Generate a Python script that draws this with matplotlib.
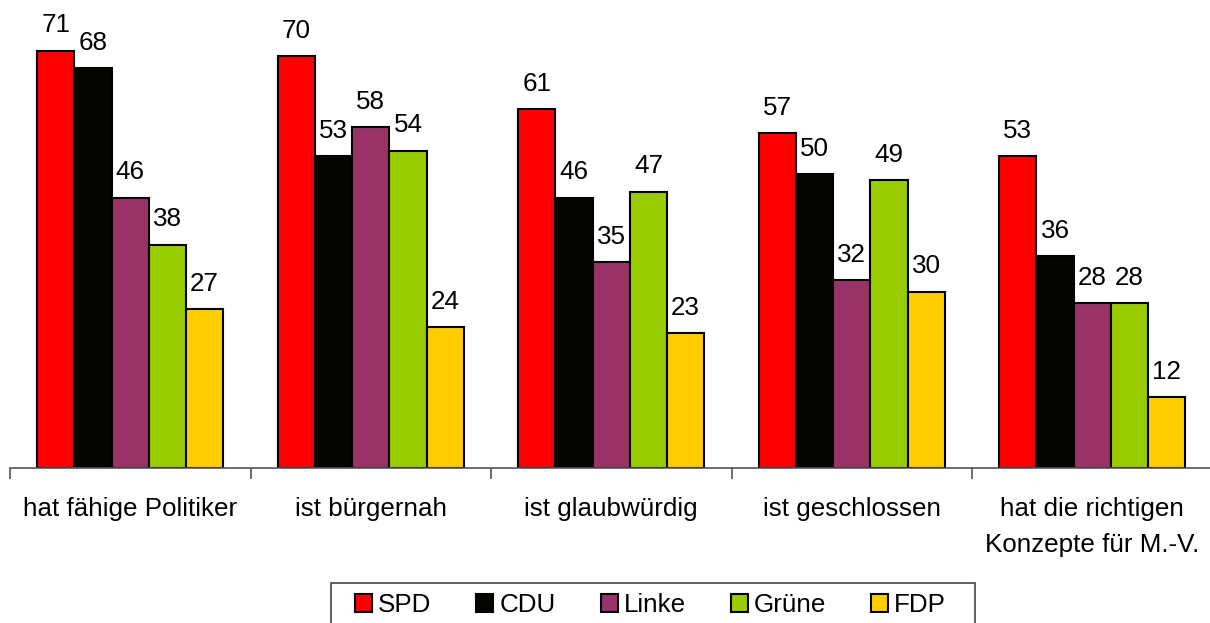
import matplotlib
matplotlib.use("Agg")
import matplotlib.pyplot as plt
from matplotlib.patches import Patch, Rectangle
import numpy as np

plt.rcParams['font.family'] = ['Liberation Sans', 'DejaVu Sans']

categories = ["hat fähige Politiker", "ist bürgernah", "ist glaubwürdig",
              "ist geschlossen", "hat die richtigen\nKonzepte für M.-V."]
parties = ["SPD", "CDU", "Linke", "Grüne", "FDP"]
colors = ["#FF0000", "#050500", "#993366", "#99CC00", "#FFCC00"]
values = {
    "SPD":   [71, 70, 61, 57, 53],
    "CDU":   [68, 53, 46, 50, 36],
    "Linke": [46, 58, 35, 32, 28],
    "Grüne": [38, 54, 47, 49, 28],
    "FDP":   [27, 24, 23, 30, 12],
}

W, H = 1210, 623
fig = plt.figure(figsize=(W / 100, H / 100), dpi=100)
ax = fig.add_axes([10 / W, (H - 468) / H, 1202.5 / W, 468 / H])

n = len(parties)
bw = 0.1547
x0 = np.arange(len(categories)) + 0.5 - bw * n / 2 + bw / 2
fs = 18.7
for i, p in enumerate(parties):
    xs = x0 + i * bw
    ax.bar(xs, values[p], width=bw, color=colors[i], edgecolor="black", linewidth=1.5)
    for x, v in zip(xs, values[p]):
        ax.annotate(str(v), (x, v), xytext=(0, 9.5), textcoords="offset points",
                    ha="center", va="bottom", fontsize=fs)

ax.set_xlim(0, 5)
ax.set_ylim(0, 79.6)
for s in ["top", "right", "left"]:
    ax.spines[s].set_visible(False)
ax.spines["bottom"].set_color("#555555")
ax.spines["bottom"].set_linewidth(1.2)
ax.set_yticks([])
ax.set_xticks(np.arange(len(categories)) + 0.5)
ax.set_xticklabels(categories, fontsize=fs, linespacing=1.62, va="top")
ax.tick_params(axis="x", which="major", length=0, pad=21)
ax.set_xticks(np.arange(0, 6), minor=True)
ax.tick_params(axis="x", which="minor", length=8, width=1.2, color="#555555", direction="out")

# legend frame drawn manually (extends past the bottom edge like the reference)
fig.patches.append(Rectangle((331 / W, -10 / H), (975 - 331) / W, (623 - 583 + 10) / H,
                             transform=fig.transFigure, fill=False,
                             edgecolor="#444444", linewidth=1.2))
handles = [Patch(facecolor=c, edgecolor="black", linewidth=1.5) for c in colors]
fpx = fs * 100 / 72
leg = fig.legend(handles, parties, loc="center left", bbox_to_anchor=(355 / W, (H - 605) / H),
                 ncol=5, fontsize=fs, frameon=False, handlelength=17 / fpx,
                 handleheight=17 / fpx, handletextpad=6 / fpx, columnspacing=45 / fpx,
                 borderpad=0, borderaxespad=0)

fig.savefig("out.png", dpi=100)
